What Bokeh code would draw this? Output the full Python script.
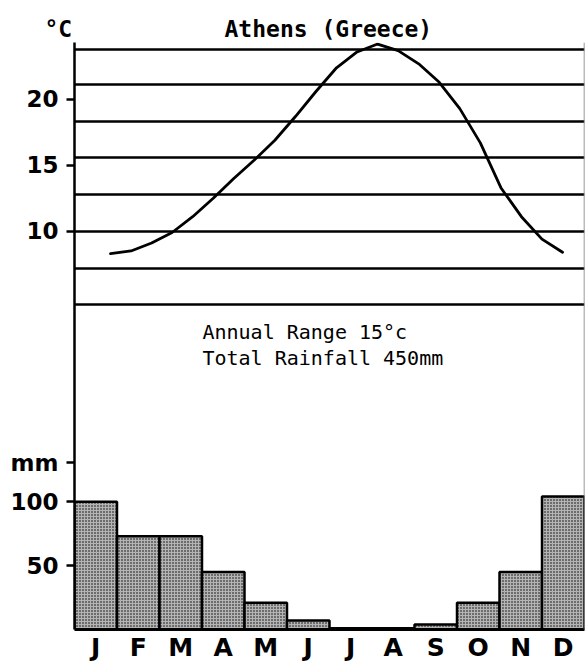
from bokeh.plotting import figure
from bokeh.models import Range1d, FixedTicker, Label, Span
from bokeh.embed import file_html
from bokeh.resources import INLINE

# ---- data ----
months = ["J", "F", "M", "A", "M", "J", "J", "A", "S", "O", "N", "D"]
rain_mm = [100, 73, 73, 45, 21, 7, 1, 1, 4, 21, 45, 104]
# temperature curve read every half month (1 = January ... 12 = December)
temp_month = [1, 1.5, 2, 2.5, 3, 3.5, 4, 4.5, 5, 5.5, 6, 6.5,
              7, 7.5, 8, 8.5, 9, 9.5, 10, 10.5, 11, 11.5, 12]
temp_c = [8.3, 8.5, 9.1, 9.9, 11.1, 12.5, 14.0, 15.4, 16.9, 18.7, 20.6, 22.4,
          23.6, 24.2, 23.7, 22.7, 21.3, 19.3, 16.7, 13.3, 11.1, 9.4, 8.4]
temp_ticks = [10, 15, 20]
rain_ticks = [50, 100]
rain_unit_at = 130.5          # where the "mm" caption sits on the rainfall scale
rule_lines_c = [23.8, 21.1, 18.35, 15.6, 12.8, 10.0, 7.2, 4.45]
title_text = "Athens (Greece)"
temp_unit = "°C"
rain_unit = "mm"
notes = ["Annual Range 15°c", "Total Rainfall 450mm"]

BOLD = "DejaVu Sans"
MONO = "DejaVu Sans Mono"
NBSP = "\u00a0"

t_range = Range1d(-20.227, 24.318)
mm_range = Range1d(0, 459.4)

p = figure(width=586, height=664,
           x_range=Range1d(0, 12), y_range=t_range,
           output_backend="svg", toolbar_location=None,
           min_border_left=74, min_border_right=2,
           min_border_top=42, min_border_bottom=34,
           background_fill_color="white", border_fill_color="white",
           outline_line_color=None)
p.extra_y_ranges = {"mm": mm_range}
p.extra_x_ranges = {"tm": Range1d(0.124, 12.535)}
p.xgrid.visible = False
p.ygrid.visible = False

# ---- title line (unit + station name) ----
p.title.text = temp_unit + NBSP * 11 + title_text
p.title.align = "left"
p.title.offset = -30
p.title.standoff = 2
p.title.text_font = MONO
p.title.text_font_style = "bold"
p.title.text_font_size = "23px"
p.title.text_color = "black"

# ---- ruled lines ----
p.hspan(y=rule_lines_c, line_color="black", line_width=2.5)
p.add_layout(Span(location=12, dimension="height", line_color="#777777", line_width=1.5))

# ---- rainfall bars ----
p.vbar(x=[i + 0.5 for i in range(len(months))], top=rain_mm, bottom=0, width=1,
       y_range_name="mm", fill_color="#b4b4b4", line_color="black", line_width=2.5,
       hatch_pattern="dot", hatch_color="black", hatch_scale=3, hatch_weight=1.3)

# ---- temperature curve ----
p.line(x=temp_month, y=temp_c, x_range_name="tm", line_color="black",
       line_width=2.8, line_join="round", line_cap="round")

# ---- x axis (months) ----
xa = p.xaxis[0]
xa.ticker = FixedTicker(ticks=[i + 0.5 for i in range(len(months))])
xa.major_label_overrides = {i + 0.5: m for i, m in enumerate(months)}
xa.axis_line_color = "black"
xa.axis_line_width = 3
xa.major_tick_line_color = None
xa.minor_tick_line_color = None
xa.major_tick_out = 0
xa.minor_tick_out = 0
xa.major_label_standoff = 3
xa.major_label_text_font = BOLD
xa.major_label_text_font_style = "bold"
xa.major_label_text_font_size = "25px"
xa.major_label_text_color = "black"

# ---- shared left axis: temperature ticks + rainfall ticks ----
def mm_to_t(v):
    f = (v - mm_range.start) / (mm_range.end - mm_range.start)
    return t_range.start + f * (t_range.end - t_range.start)

ticks = list(temp_ticks)
overrides = {t: str(t) for t in temp_ticks}
for v in rain_ticks:
    pos = mm_to_t(v)
    ticks.append(pos)
    overrides[pos] = str(v)
pos = mm_to_t(rain_unit_at)
ticks.append(pos)
overrides[pos] = rain_unit

ya = p.yaxis[0]
ya.ticker = FixedTicker(ticks=ticks)
ya.major_label_overrides = overrides
ya.axis_line_color = "black"
ya.axis_line_width = 2.5
ya.major_tick_out = 8
ya.major_tick_in = 0
ya.major_tick_line_width = 2.5
ya.major_tick_line_color = "black"
ya.minor_tick_line_color = None
ya.minor_tick_out = 0
ya.major_label_standoff = 8
ya.major_label_text_font = BOLD
ya.major_label_text_font_style = "bold"
ya.major_label_text_font_size = "23px"
ya.major_label_text_color = "black"

# ---- notes ----
for txt, yv in zip(notes, [2.35, 0.38]):
    p.add_layout(Label(x=3.01, y=yv, text=txt, text_align="left",
                       text_baseline="middle", text_font=MONO,
                       text_font_size="20px", text_color="black"))

open("out.html", "w").write(file_html(p, INLINE))
